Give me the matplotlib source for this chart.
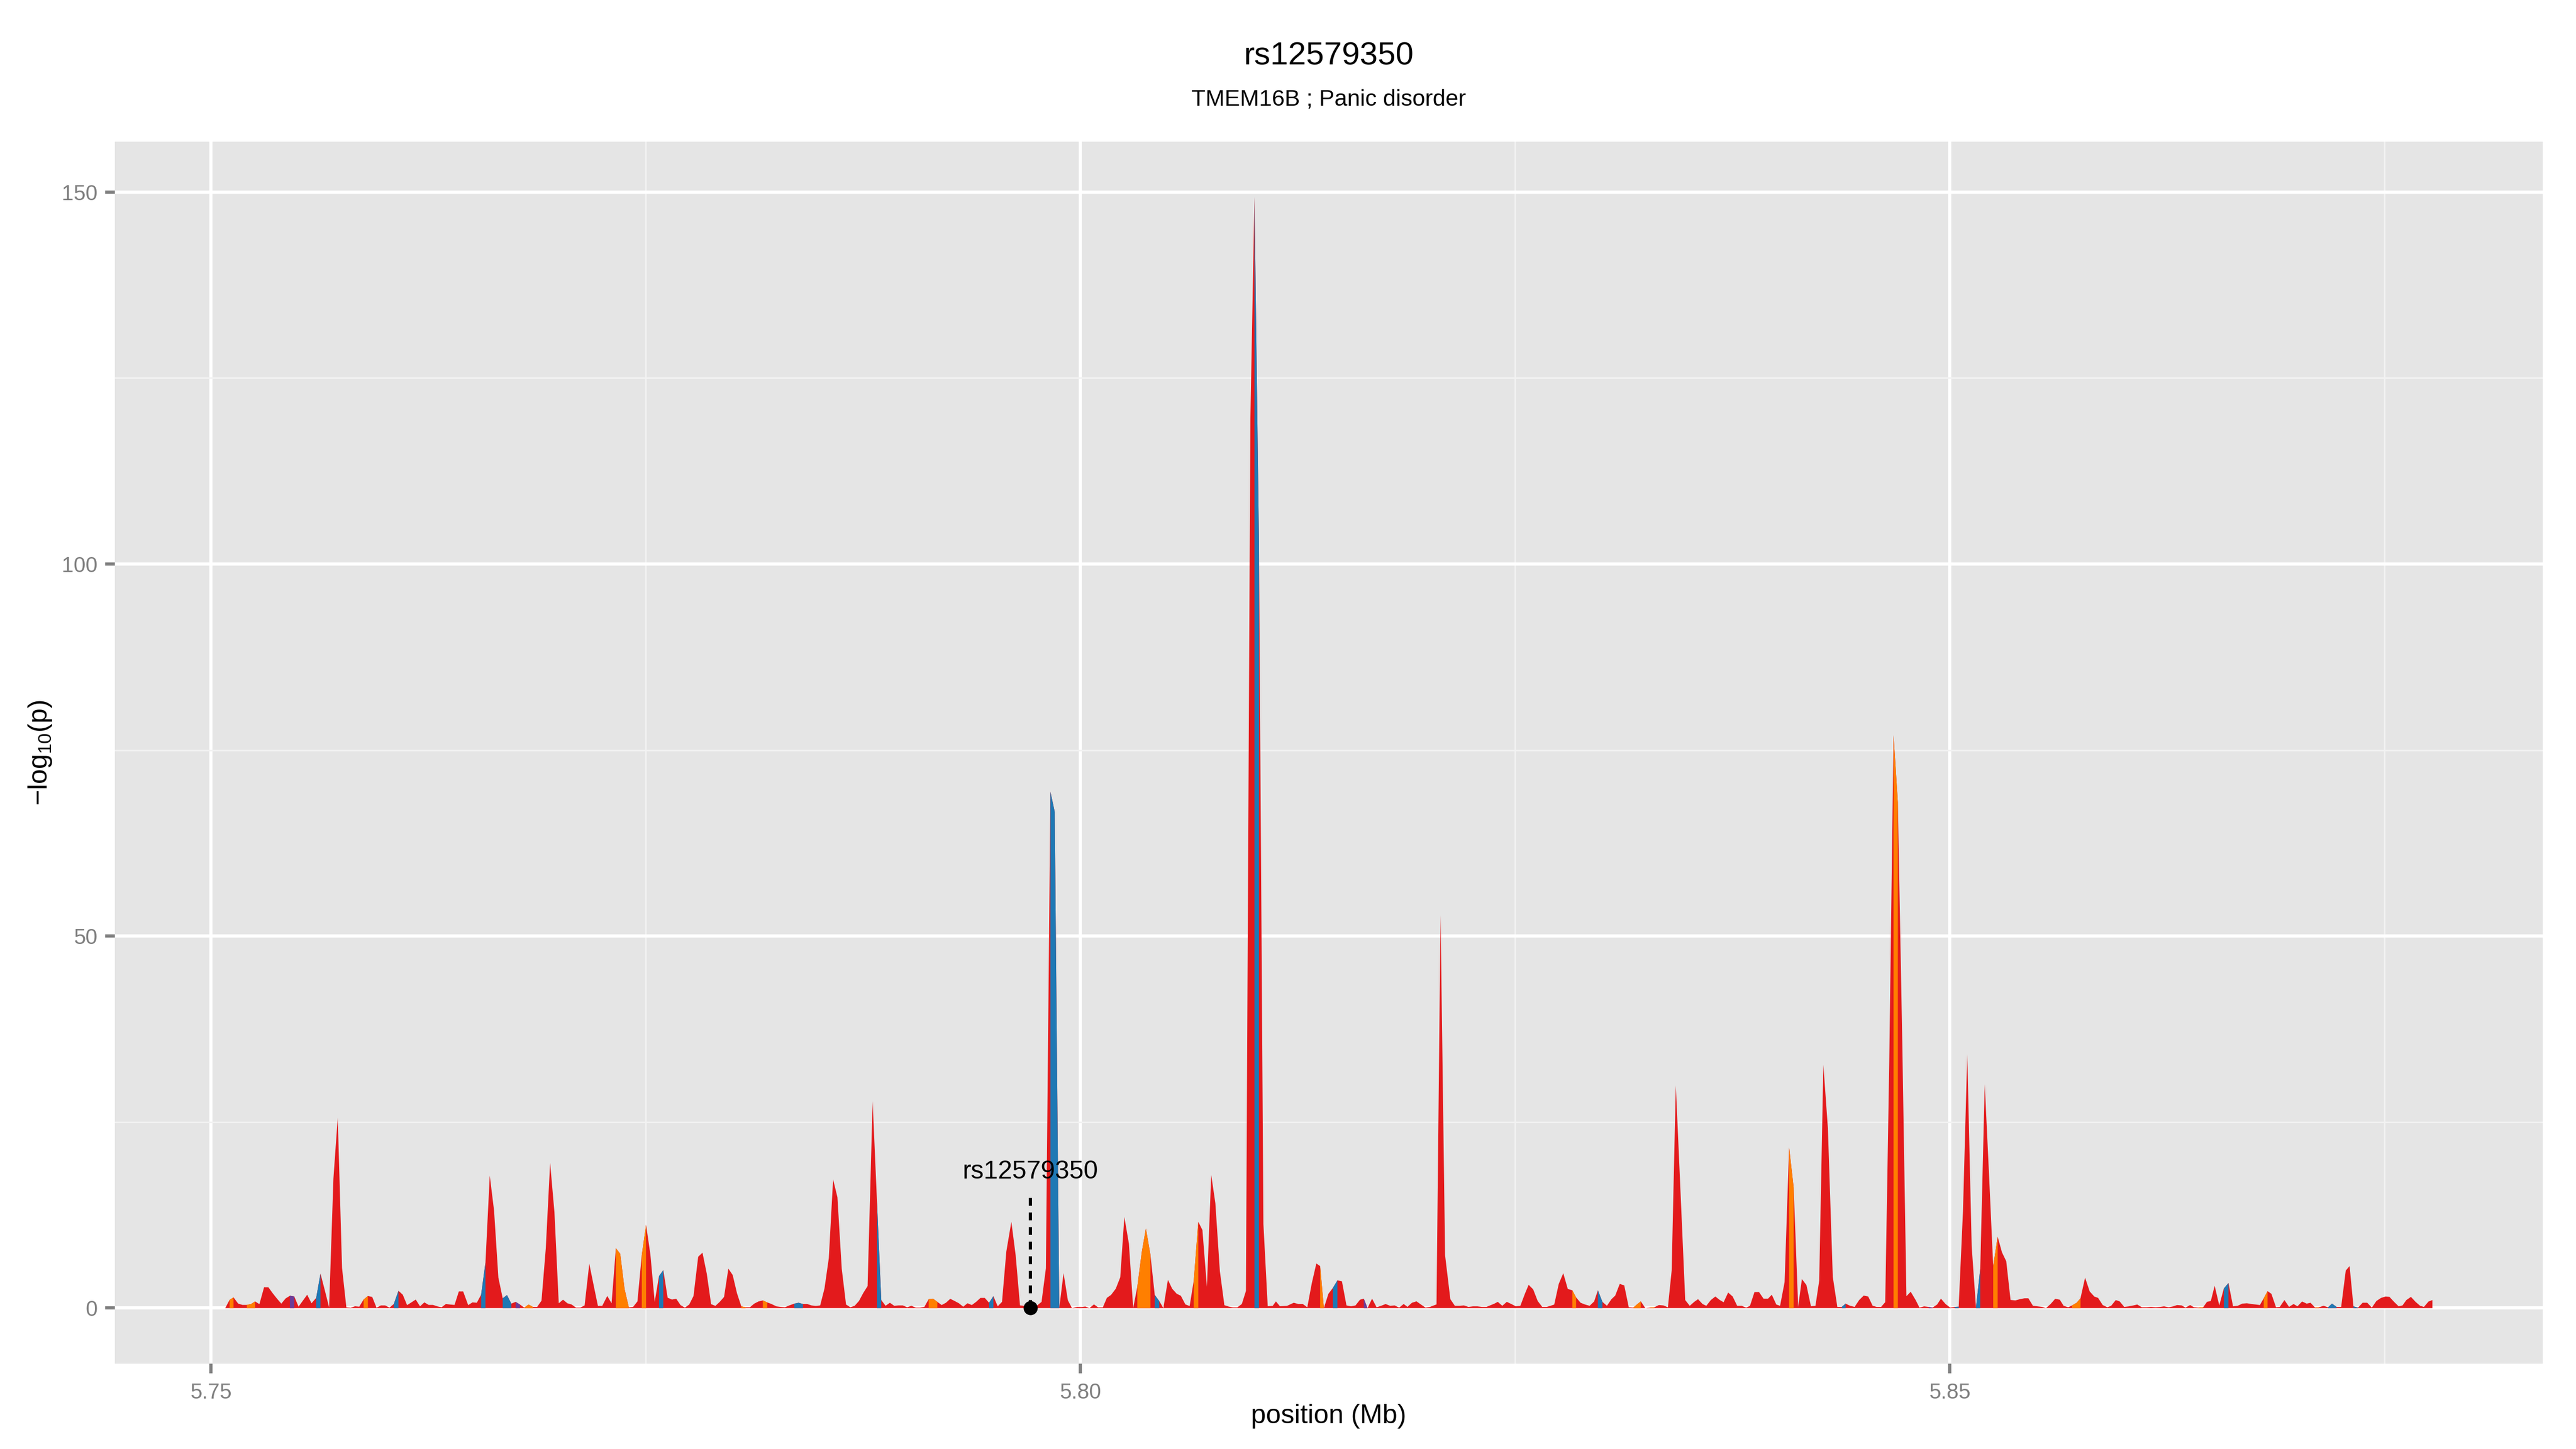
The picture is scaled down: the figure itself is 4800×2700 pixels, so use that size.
import matplotlib
matplotlib.use("Agg")
import matplotlib.pyplot as plt
import numpy as np

plt.rcParams['font.family'] = ['Liberation Sans', 'DejaVu Sans']
plt.rcParams['mathtext.fontset'] = 'custom'
plt.rcParams['mathtext.rm'] = 'Liberation Sans'

# ---------------- data ----------------
snp_id = "rs12579350"
subtitle = "TMEM16B ; Panic disorder"
snp_pos_bp = 5797129
label_height = 17.4
dash_top = 15.0

positions_bp = [
    5750811, 5751059, 5751287, 5751556, 5751804, 5752052, 5752300, 5752527, 5752775, 5753044,
    5753292, 5753540, 5753788, 5754036, 5754284, 5754532, 5754780, 5755028, 5755276, 5755524,
    5755772, 5756041, 5756289, 5756537, 5756785, 5757033, 5757281, 5757529, 5757777, 5758025,
    5758273, 5758521, 5758769, 5759017, 5759265, 5759513, 5759762, 5760010, 5760258, 5760506,
    5760774, 5761022, 5761270, 5761519, 5761767, 5762015, 5762263, 5762511, 5762759, 5763007,
    5763255, 5763503, 5763751, 5763999, 5764247, 5764495, 5764784, 5765032, 5765280, 5765528,
    5765777, 5766025, 5766273, 5766521, 5766769, 5767017, 5767265, 5767513, 5767761, 5768009,
    5768257, 5768505, 5768753, 5769001, 5769249, 5769497, 5769745, 5769993, 5770241, 5770489,
    5770737, 5770985, 5771233, 5771481, 5771750, 5771998, 5772246, 5772494, 5772784, 5773032,
    5773280, 5773528, 5773776, 5774024, 5774272, 5774520, 5774768, 5775016, 5775264, 5775512,
    5775760, 5776008, 5776256, 5776504, 5776752, 5777000, 5777249, 5777497, 5777745, 5778013,
    5778261, 5778509, 5778757, 5779005, 5779253, 5779501, 5779749, 5779997, 5780245, 5780493,
    5780742, 5780990, 5781238, 5781486, 5781734, 5781982, 5782230,
    5782508, 5782756, 5783004, 5783252, 5783542, 5783790, 5784038, 5784286, 5784534, 5784782,
    5785030, 5785278, 5785526, 5785774, 5786022, 5786270, 5786518, 5786766, 5787014, 5787262,
    5787510, 5787758, 5788048, 5788296, 5788544, 5788792, 5789040, 5789288, 5789536, 5789784,
    5790032, 5790280, 5790528, 5790776, 5791024, 5791272, 5791520, 5791768, 5792016, 5792264,
    5792513, 5792761, 5793009, 5793257, 5793505, 5793753, 5794001, 5794249, 5794497, 5794745,
    5794993, 5795241, 5795489, 5795737, 5796026, 5796274, 5796523, 5796771, 5797019, 5797267,
    5797515, 5797763,
    5798013, 5798273, 5798521, 5798781, 5799029, 5799277, 5799513, 5799809, 5800045, 5800281,
    5800518, 5800778, 5801015, 5801287, 5801521, 5801759, 5802030, 5802290, 5802525, 5802787,
    5803034, 5803271, 5803530, 5803765, 5804024, 5804274, 5804534, 5804771, 5805031, 5805278,
    5805537, 5805775, 5806034, 5806281, 5806518, 5806778, 5807015, 5807275, 5807522, 5807760,
    5808019, 5808279, 5808516, 5808763, 5809023, 5809282, 5809519,
    5809775, 5810009, 5810268, 5810524, 5810772, 5811058, 5811244, 5811473,
    5811880, 5812270, 5812530, 5812789, 5813049, 5813309, 5813569, 5813785, 5814002, 5814262,
    5814521, 5814781, 5815041, 5815301, 5815561, 5815820, 5816080, 5816297, 5816513, 5816773,
    5817033, 5817293, 5817552, 5817812, 5818072, 5818332, 5818592, 5818808, 5819068, 5819328,
    5819587, 5819847, 5820107, 5820323, 5820480, 5820713, 5820973, 5821276, 5821536, 5821796,
    5822056, 5822315, 5822575, 5822835, 5823095, 5823355, 5823614, 5823810, 5824004, 5824264,
    5824524, 5824783, 5825043, 5825303, 5825563, 5825779, 5826039, 5826299, 5826559, 5826819,
    5827035, 5827252, 5827511, 5827771, 5828031, 5828291, 5828507, 5828767, 5829027, 5829287,
    5829546, 5829763, 5830022, 5830282, 5830542, 5830759, 5831019, 5831278, 5831538, 5831798,
    5832015, 5832231, 5832491, 5832750, 5833010, 5833270, 5833530, 5833790, 5834006, 5834244,
    5834504, 5834786, 5835046, 5835305, 5835522, 5835782, 5835998, 5836258, 5836518, 5836778,
    5836994, 5837254, 5837514, 5837773, 5838033, 5838293, 5838510, 5838769, 5839029, 5839289,
    5839549, 5839765, 5840025, 5840242, 5840501, 5840761, 5841022, 5841282, 5841497, 5841757,
    5842017, 5842277, 5842493, 5842731, 5842991, 5843273, 5843533, 5843792, 5844010, 5844270,
    5844530, 5844790, 5845050, 5845310, 5845567, 5845800, 5846054, 5846290, 5846521, 5846768,
    5847015, 5847275, 5847508, 5847755, 5848039, 5848259, 5848524, 5848788, 5849009, 5849273,
    5849494, 5849758, 5850023, 5850288, 5850515, 5850761, 5851008, 5851262, 5851509, 5851756,
    5852012, 5852259, 5852500, 5852756, 5853003, 5853250, 5853497, 5853772, 5854036, 5854301,
    5854522, 5854786, 5855051, 5855315, 5855536, 5855801, 5856065, 5856330, 5856550, 5856815,
    5857035, 5857300, 5857520, 5857785, 5858050, 5858314, 5858534, 5858799, 5859064, 5859284,
    5859549, 5859770, 5860034, 5860299, 5860563, 5860784, 5861048, 5861313, 5861577, 5861842,
    5862106, 5862327, 5862592, 5862856, 5863077, 5863341, 5863562, 5863827, 5864047, 5864311,
    5864576, 5864797, 5865017, 5865238, 5865502, 5865767, 5866031, 5866296, 5866561, 5866825,
    5867090, 5867354, 5867619, 5867839, 5868060, 5868280, 5868501, 5868766, 5868986, 5869251,
    5869515, 5869780, 5870000, 5870265, 5870530, 5870750, 5871015, 5871235, 5871500, 5871764,
    5871985, 5872249, 5872514, 5872779, 5872999, 5873220, 5873484, 5873749, 5874013, 5874278,
    5874543, 5874807, 5875072, 5875292, 5875557, 5875821, 5876042, 5876263, 5876527, 5876792,
    5877056, 5877277, 5877541, 5877762,
]

neg_log10_p = [
    0.0, 1.1, 1.44, 0.6, 0.43, 0.43, 0.55, 0.9, 0.53, 2.8,
    2.8, 2.0, 1.27, 0.6, 1.3, 1.66, 1.56, 0.2, 1.0, 1.8,
    0.65, 1.37, 4.64, 2.4, 0.1, 17.4, 25.6, 5.4, 0.1, 0.05,
    0.25, 0.2, 1.15, 1.63, 1.5, 0.05, 0.36, 0.36, 0.07, 0.55,
    2.33, 1.8, 0.4, 0.77, 1.15, 0.24, 0.77, 0.43, 0.43, 0.24,
    0.12, 0.55, 0.48, 0.43, 2.24, 2.24, 0.4, 0.77, 0.72, 1.8,
    6.1, 17.8, 13.1, 4.1, 1.32, 1.75, 0.6, 0.84, 0.48, 0.07,
    0.48, 0.17, 0.17, 1.0, 8.05, 19.5, 12.9, 0.65, 1.13, 0.65,
    0.48, 0.07, 0.07, 0.36, 5.96, 3.1, 0.3, 0.3, 1.63, 0.65,
    8.05, 7.3, 2.6, 0.1, 0.17, 0.9, 7.1, 11.2, 7.2, 0.84,
    4.3, 5.1, 1.4, 1.15, 1.25, 0.4, 0.07, 0.48, 1.63, 6.9,
    7.45, 4.6, 0.53, 0.3, 0.84, 1.5, 5.3, 4.45, 2.0, 0.24,
    0.12, 0.12, 0.6, 0.9, 1.03, 0.77, 0.55,
    0.24, 0.17, 0.12, 0.36, 0.6, 0.72, 0.55, 0.55, 0.36, 0.29,
    0.36, 2.64, 6.7, 17.3, 14.9, 5.3, 0.48, 0.12, 0.31, 0.96,
    2.04, 2.96, 27.8, 14.4, 1.08, 0.31, 0.72, 0.31, 0.36, 0.36,
    0.12, 0.31, 0.07, 0.07, 0.17, 1.2, 1.27, 0.84, 0.41, 0.72,
    1.25, 0.96, 0.65, 0.19, 0.65, 0.41, 0.84, 1.37, 1.37, 0.72,
    1.61, 0.24, 0.84, 7.6, 11.6, 7.1, 0.36, 0.31, 0.31, 0.12,
    0.36, 0.84,
    5.35, 69.4, 66.7, 0.0, 4.7, 1.05, 0.0, 0.17, 0.15, 0.22,
    0.0, 0.5, 0.1, 0.1, 1.38, 1.77, 2.6, 4.14, 12.25, 8.67,
    0.0, 2.87, 7.56, 10.7, 7.18, 1.77, 0.94, 0.0, 3.8, 2.6,
    1.93, 1.66, 0.5, 0.28, 3.7, 11.6, 10.5, 2.87, 17.9, 14.1,
    4.97, 0.39, 0.22, 0.1, 0.1, 0.55, 2.3,
    119.5, 149.3, 102.9, 11.3, 0.25, 0.3, 0.9, 0.25,
    0.3, 0.72, 0.55, 0.55, 0.12, 3.37, 6.0, 5.65, 0.0, 1.92,
    2.72, 3.73, 3.6, 0.36, 0.24, 0.36, 1.13, 1.27, 0.0, 1.27,
    0.12, 0.31, 0.55, 0.31, 0.36, 0.07, 0.55, 0.17, 0.72, 0.91,
    0.48, 0.07, 0.17, 0.36, 0.5, 52.8, 7.1, 1.2, 0.31, 0.31,
    0.36, 0.17, 0.24, 0.24, 0.17, 0.17, 0.41, 0.6, 0.84, 0.31,
    0.84, 0.55, 0.24, 0.31, 1.92, 3.13, 2.52, 0.96, 0.17, 0.17,
    0.31, 0.48, 3.25, 4.69, 2.57, 2.4, 1.44, 0.72, 0.48, 0.31,
    0.89, 2.4, 0.84, 0.31, 1.2, 1.68, 3.25, 3.05, 0.12, 0.07,
    0.5, 0.91, 0.0, 0.07, 0.12, 0.41, 0.36, 0.12, 5.05, 29.9,
    16.2, 1.08, 0.31, 0.84, 1.2, 0.55, 0.31, 1.08, 1.56, 1.08,
    0.79, 2.09, 1.56, 0.31, 0.31, 0.07, 0.31, 2.16, 2.16, 1.27,
    1.27, 1.8, 0.48, 0.31, 3.49, 21.6, 16.2, 0.17, 3.9, 3.1,
    0.24, 0.31, 3.7, 32.7, 24.2, 4.2, 0.17, 0.17, 0.6, 0.31,
    0.17, 1.08, 1.68, 1.56, 0.31, 0.17, 0.17, 0.8, 33.0, 77.0,
    68.0, 35.0, 1.6, 2.2, 1.08, 0.07, 0.24, 0.17, 0.07, 0.48,
    1.27, 0.55, 0.07, 0.17, 0.2, 13.0, 34.1, 8.3, 0.1, 5.3,
    30.1, 18.0, 5.6, 9.6, 7.5, 6.3, 1.1, 1.03, 1.2, 1.32,
    1.32, 0.31, 0.24, 0.17, 0.0, 0.55, 1.25, 1.13, 0.31, 0.12,
    0.36, 0.72, 1.32, 4.09, 2.24, 1.56, 1.37, 0.41, 0.12, 0.31,
    1.08, 0.91, 0.17, 0.24, 0.36, 0.48, 0.12, 0.12, 0.17, 0.12,
    0.17, 0.24, 0.12, 0.24, 0.41, 0.36, 0.07, 0.41, 0.12, 0.07,
    0.12, 0.84, 0.96, 3.0, 0.36, 2.64, 3.37, 0.24, 0.31, 0.6,
    0.65, 0.55, 0.48, 0.41, 1.32, 2.28, 1.92, 0.12, 0.17, 1.08,
    0.17, 0.55, 0.24, 0.89, 0.6, 0.72, 0.07, 0.12, 0.31, 0.12,
    0.6, 0.17, 0.17, 5.05, 5.65, 0.24, 0.07, 0.72, 0.72, 0.07,
    0.96, 1.37, 1.56, 1.51, 0.84, 0.24, 0.36, 1.08, 1.51, 0.84,
    0.31, 0.17, 0.89, 1.08,
]

# coloured bands (start bp, end bp, class); everything else is the red class
band_start_bp = [
    5751059, 5752052, 5754532, 5756041, 5758769, 5760506, 5765528, 5766769, 5767513, 5768009,
    5773280, 5774768, 5775760, 5780493, 5781734, 5783542, 5788296, 5791272, 5794745, 5798273,
    5803271, 5804274, 5806518, 5810009, 5813785, 5814521, 5816297, 5828291, 5829763, 5831798,
    5832750, 5840761, 5843792, 5846768, 5848788, 5850288, 5851509, 5852500, 5857035, 5864311,
    5865767, 5868060, 5871015, 5871764, 5873220,
]
band_end_bp = [
    5751287, 5752527, 5754780, 5756289, 5759017, 5760774, 5765777, 5767265, 5767761, 5768505,
    5774024, 5775016, 5776008, 5780742, 5781982, 5784038, 5788544, 5791768, 5794993, 5798781,
    5804024, 5804534, 5806778, 5810268, 5814002, 5814781, 5816513, 5828507, 5830022, 5832231,
    5833010, 5841022, 5844010, 5847015, 5849009, 5850515, 5851756, 5852756, 5857520, 5864576,
    5866031, 5868280, 5871235, 5872249, 5873484,
]
band_class = [
    'orange', 'orange', 'purple', 'blue', 'orange', 'blue', 'blue', 'blue', 'purple', 'orange',
    'orange', 'orange', 'blue', 'orange', 'orange', 'blue', 'blue', 'orange', 'blue', 'blue',
    'orange', 'blue', 'orange', 'blue', 'orange', 'blue', 'purple', 'orange', 'blue', 'orange',
    'orange', 'orange', 'blue', 'orange', 'purple', 'blue', 'blue', 'orange', 'orange', 'orange',
    'blue', 'orange', 'orange', 'blue', 'blue',
]

x_major = [5.75, 5.80, 5.85]
x_major_labels = ['5.75', '5.80', '5.85']
x_minor = [5.775, 5.825, 5.875]
y_major = [0, 50, 100, 150]
y_major_labels = ['0', '50', '100', '150']
y_minor = [25, 75, 125]

class_colors = {'red': '#E31A1C', 'blue': '#1F78B4', 'orange': '#FF7F00', 'purple': '#6A3D9A'}

# ---------------- figure ----------------
fig = plt.figure(figsize=(16, 9), dpi=300)
ax_left, ax_bottom, ax_w, ax_h = 0.0446, 0.0589, 0.9425, 0.8433
ax = fig.add_axes([ax_left, ax_bottom, ax_w, ax_h])
ax.set_facecolor('#E5E5E5')
for s in ax.spines.values():
    s.set_visible(False)

x = np.array(positions_bp, dtype=float) / 1e6
y = np.array(neg_log10_p, dtype=float)

# base (red) area
ax.fill_between(x, y, 0, facecolor=class_colors['red'], linewidth=0, zorder=2)

# coloured bands on top
for a, b, c in zip(band_start_bp, band_end_bp, band_class):
    a_mb, b_mb = a / 1e6, b / 1e6
    inner = x[(x > a_mb) & (x < b_mb)]
    xs = np.concatenate([[a_mb], inner, [b_mb]])
    ys = np.interp(xs, x, y)
    ax.fill_between(xs, ys, 0, facecolor=class_colors[c], linewidth=0, zorder=3)

# annotation for the SNP
snp_x = snp_pos_bp / 1e6
ax.plot([snp_x, snp_x], [0, dash_top], color='black', lw=1.45,
        linestyle=(0, (2.4, 2.1)), zorder=5, solid_capstyle='butt', dash_capstyle='butt')
ax.plot([snp_x], [0], 'o', color='black', markersize=5.3, zorder=6)
ax.text(snp_x, label_height, snp_id, ha='center', va='baseline', fontsize=11.5,
        color='black', zorder=7)

# scales (ggplot-like 5% expansion)
xr = x.max() - x.min()
ax.set_xlim(x.min() - 0.05 * xr, x.max() + 0.05 * xr)
yr = y.max() - 0.0
ax.set_ylim(0 - 0.05 * yr, y.max() + 0.05 * yr)

ax.set_xticks(x_major)
ax.set_xticklabels(x_major_labels)
ax.set_xticks(x_minor, minor=True)
ax.set_yticks(y_major)
ax.set_yticklabels(y_major_labels)
ax.set_yticks(y_minor, minor=True)

ax.grid(which='major', color='white', linewidth=1.42, zorder=0)
ax.grid(which='minor', color='#F2F2F2', linewidth=0.71, zorder=0)
ax.set_axisbelow(True)

ax.tick_params(which='major', length=4.3, width=1.42, color='#7F7F7F',
               labelcolor='#7F7F7F', labelsize=9.6)
ax.tick_params(axis='x', which='major', pad=4.2)
ax.tick_params(axis='y', which='major', pad=3.4)
ax.tick_params(which='minor', length=0)

# titles and axis titles
cx = ax_left + ax_w / 2
fig.text(cx, 0.9552, snp_id, ha='center', va='baseline', fontsize=14.4, color='black')
fig.text(cx, 0.9273, subtitle, ha='center', va='baseline', fontsize=10.3, color='black')
fig.text(cx, 0.0226, 'position (Mb)', ha='center', va='center', fontsize=12, color='black')
fig.text(0.0156, ax_bottom + ax_h / 2, r'$\mathregular{-log_{10}(p)}$', ha='center', va='center',
         rotation=90, fontsize=12, color='black')

fig.savefig('out.png', dpi=300, facecolor='white')
